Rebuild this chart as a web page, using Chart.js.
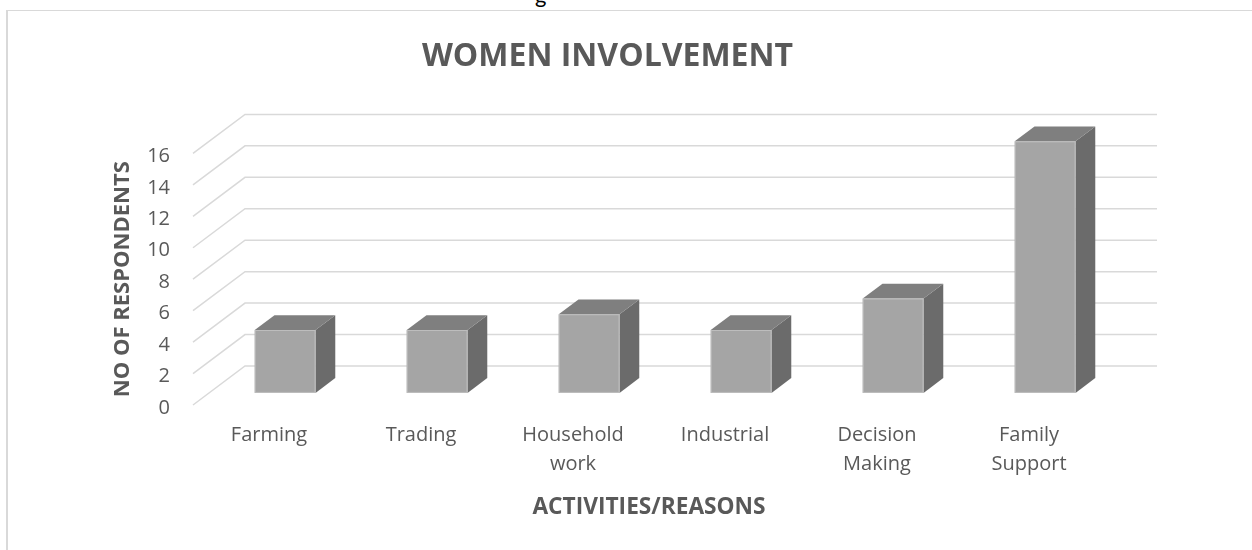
<!DOCTYPE html>
<html>
<head>
<meta charset="utf-8">
<script src="https://cdn.jsdelivr.net/npm/chart.js@4.4.0/dist/chart.umd.min.js"></script>
<style>
  body { margin: 0; background: #fff; overflow: hidden; }
  #wrap { position: relative; width: 1252px; height: 550px; overflow: hidden; }
  #frame { position: absolute; left: 6px; top: 10px; width: 1400px; height: 700px;
           border-top: 1px solid #d9d9d9; border-left: 2px solid #d9d9d9; }
  #above { position: absolute; left: 535px; top: -19px; font: 22px Lato, sans-serif; color: #000; }
  #box { position: absolute; left: 0; top: 0; width: 1252px; height: 550px; }
</style>
</head>
<body>
<div id="wrap">
  <div id="above">g</div>
  <div id="frame"></div>
  <div id="box"><canvas id="womenChart"></canvas></div>
</div>
<script>
const categories = [['Farming'], ['Trading'], ['Household', 'work'], ['Industrial'], ['Decision', 'Making'], ['Family', 'Support']];
const respondents = [4, 4, 5, 4, 6, 16];
const yTicks = [0, 2, 4, 6, 8, 10, 12, 14, 16];

const textGrey = '#595959';

// depth of the 3-D box: back wall offset, bar front and back planes as fraction of depth
const depth = { dx: 52, dy: -39, front: 0.31, back: 0.69 };

const fake3d = {
    id: 'fake3d',
    beforeDatasetsDraw(chart) {
        const ctx = chart.ctx;
        const area = chart.chartArea;
        const y = chart.scales.y;
        ctx.save();
        ctx.strokeStyle = '#d9d9d9';
        ctx.lineWidth = 1.5;
        yTicks.forEach(function (v) {
            const py = y.getPixelForValue(v);
            ctx.beginPath();
            ctx.moveTo(area.left, py);
            ctx.lineTo(area.left + depth.dx, py + depth.dy);
            ctx.lineTo(area.right + depth.dx, py + depth.dy);
            ctx.stroke();
        });
        ctx.restore();
    },
    afterDatasetsDraw(chart) {
        const ctx = chart.ctx;
        const meta = chart.getDatasetMeta(0);
        const fx = depth.dx * depth.front, fy = depth.dy * depth.front;
        const bx = depth.dx * depth.back, by = depth.dy * depth.back;
        ctx.save();
        meta.data.forEach(function (bar) {
            const l = bar.x - bar.width / 2, r = bar.x + bar.width / 2;
            const top = bar.y, base = bar.base;
            // side
            ctx.fillStyle = '#6b6b6b';
            ctx.beginPath();
            ctx.moveTo(r + fx, top + fy);
            ctx.lineTo(r + bx, top + by);
            ctx.lineTo(r + bx, base + by);
            ctx.lineTo(r + fx, base + fy);
            ctx.closePath();
            ctx.fill();
            // top
            ctx.fillStyle = '#7f7f7f';
            ctx.beginPath();
            ctx.moveTo(l + fx, top + fy);
            ctx.lineTo(r + fx, top + fy);
            ctx.lineTo(r + bx, top + by);
            ctx.lineTo(l + bx, top + by);
            ctx.closePath();
            ctx.fill();
            // front
            ctx.fillStyle = '#a5a5a5';
            ctx.fillRect(l + fx, top + fy, r - l, base - top);
            ctx.strokeStyle = '#bdbdbd';
            ctx.lineWidth = 1;
            ctx.strokeRect(l + fx + 0.5, top + fy + 0.5, r - l - 1, base - top - 1);
        });
        ctx.restore();
    }
};

new Chart(document.getElementById('womenChart'), {
    type: 'bar',
    data: {
        labels: categories,
        datasets: [{
            label: 'NO OF RESPONDENTS',
            data: respondents,
            backgroundColor: 'rgba(0,0,0,0)',
            borderWidth: 0,
            barPercentage: 0.4,
            categoryPercentage: 1
        }]
    },
    options: {
        responsive: true,
        maintainAspectRatio: false,
        animation: false,
        layout: { padding: { left: 110, right: 147, top: 10, bottom: 29 } },
        plugins: {
            legend: { display: false },
            tooltip: { enabled: false },
            title: {
                display: true,
                text: 'WOMEN INVOLVEMENT',
                color: textGrey,
                font: { family: 'Open Sans', size: 32, weight: 'bold' },
                padding: { top: 28, bottom: 77 }
            }
        },
        scales: {
            x: {
                afterFit(scale) { scale.height = 116; },
                grid: { display: false, drawTicks: false },
                border: { display: false },
                ticks: {
                    color: textGrey,
                    padding: 16,
                    maxRotation: 0,
                    autoSkip: false,
                    font: { family: 'Open Sans', size: 20, lineHeight: 1.45 }
                },
                title: {
                    display: true,
                    text: 'ACTIVITIES/REASONS',
                    color: textGrey,
                    font: { family: 'Open Sans', size: 22.7, weight: 'bold' },
                    padding: { top: 13, bottom: 0 }
                }
            },
            y: {
                min: 0,
                max: 16,
                afterBuildTicks(scale) { scale.ticks = yTicks.map(v => ({ value: v })); },
                afterFit(scale) { scale.width = 83; },
                grid: { display: false, drawTicks: false },
                border: { display: false },
                ticks: {
                    color: textGrey,
                    padding: 23,
                    labelOffset: 3,
                    font: { family: 'Open Sans', size: 20 }
                },
                title: {
                    display: true,
                    text: 'NO OF RESPONDENTS',
                    color: textGrey,
                    font: { family: 'Open Sans', size: 22, weight: 'bold' },
                    padding: { top: 0, bottom: 11 }
                }
            }
        }
    },
    plugins: [fake3d]
});
</script>
</body>
</html>
